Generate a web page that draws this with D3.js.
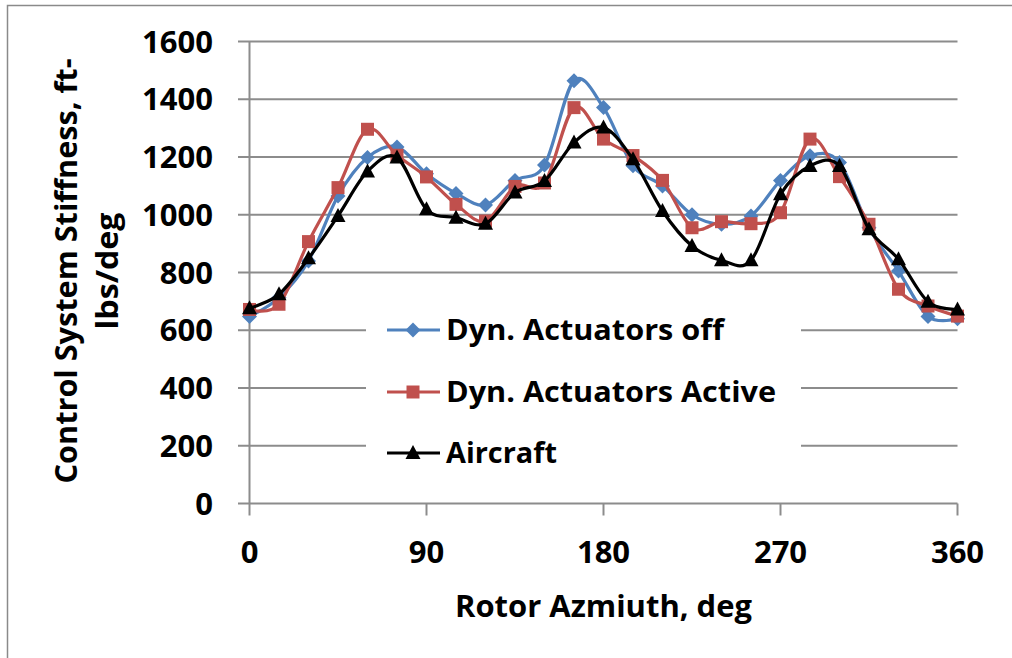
<!DOCTYPE html>
<html>
<head>
<meta charset="utf-8">
<script src="https://cdn.jsdelivr.net/npm/d3@7"></script>
<style>
  html, body { margin: 0; padding: 0; background: #fff; }
  svg { display: block; }
  text { font-family: "Open Sans", "Noto Sans", sans-serif; font-weight: 700; fill: #000; }
</style>
</head>
<body>
<div id="chart"></div>
<script>
// rotor azimuth, deg
var azimuth = [0, 15, 30, 45, 60, 75, 90, 105, 120, 135, 150, 165, 180,
               195, 210, 225, 240, 255, 270, 285, 300, 315, 330, 345, 360];
var actuatorsOff = [648, 713, 840, 1065, 1198, 1235, 1142, 1074, 1034, 1119, 1172, 1464, 1371,
                    1170, 1100, 1000, 967, 996, 1119, 1204, 1181, 955, 805, 648, 640];
var actuatorsActive = [672, 690, 907, 1094, 1296, 1206, 1131, 1036, 978, 1098, 1110, 1371, 1262,
                       1205, 1119, 955, 976, 969, 1007, 1262, 1132, 967, 742, 684, 649];
var aircraft = [676, 725, 849, 996, 1150, 1198, 1019, 990, 969, 1077, 1117, 1250, 1302,
                1192, 1013, 892, 842, 842, 1071, 1169, 1169, 950, 846, 699, 672];
var xTicks = [0, 90, 180, 270, 360];
var yTicks = [0, 200, 400, 600, 800, 1000, 1200, 1400, 1600];
var seriesNames = ["Dyn. Actuators off", "Dyn. Actuators Active", "Aircraft"];

var W = 1012, H = 658;
var svg = d3.select("#chart").append("svg").attr("width", W).attr("height", H);

// chart area border (clipped at right/bottom like the original)
svg.append("rect").attr("x", 7.5).attr("y", 5.5).attr("width", W + 20).attr("height", H + 20)
  .attr("fill", "#fff").attr("stroke", "#8a8a8a").attr("stroke-width", 1.5);

var x = d3.scaleLinear().domain([0, 360]).range([249.5, 957.5]);
var y = d3.scaleLinear().domain([0, 1600]).range([503.5, 41.5]);

// gridlines (also act as left tick marks)
svg.append("g").selectAll("line").data(yTicks).enter().append("line")
  .attr("x1", 238).attr("x2", x(360))
  .attr("y1", function(d) { return y(d); }).attr("y2", function(d) { return y(d); })
  .attr("stroke", "#8c8c8c").attr("stroke-width", 2);

// y axis line
svg.append("line").attr("x1", x(0)).attr("x2", x(0)).attr("y1", y(1600)).attr("y2", y(0))
  .attr("stroke", "#8c8c8c").attr("stroke-width", 2);

// x axis ticks
svg.append("g").selectAll("line").data(xTicks).enter().append("line")
  .attr("x1", function(d) { return x(d); }).attr("x2", function(d) { return x(d); })
  .attr("y1", y(0)).attr("y2", y(0) + 12)
  .attr("stroke", "#8c8c8c").attr("stroke-width", 2);

// tick labels
svg.append("g").selectAll("text").data(yTicks).enter().append("text")
  .attr("x", 213).attr("y", function(d) { return y(d) + 11; })
  .attr("text-anchor", "end").style("font-size", "31px")
  .text(function(d) { return d; });

svg.append("g").selectAll("text").data(xTicks).enter().append("text")
  .attr("x", function(d) { return x(d); }).attr("y", 563)
  .attr("text-anchor", "middle").style("font-size", "31px")
  .text(function(d) { return d; });

// axis titles
svg.append("text").attr("x", 603.5).attr("y", 617).attr("text-anchor", "middle")
  .style("font-size", "30px").attr("textLength", 297).attr("lengthAdjust", "spacingAndGlyphs")
  .text("Rotor Azmiuth, deg");

var yt = svg.append("g").attr("transform", "translate(0,271) rotate(-90)");
yt.append("text").attr("x", 0).attr("y", 77).attr("text-anchor", "middle")
  .style("font-size", "31px").attr("textLength", 425).attr("lengthAdjust", "spacingAndGlyphs")
  .text("Control System Stiffness, ft-");
yt.append("text").attr("x", 0).attr("y", 118).attr("text-anchor", "middle")
  .style("font-size", "31px").attr("textLength", 117).attr("lengthAdjust", "spacingAndGlyphs")
  .text("lbs/deg");

// legend box sits over the gridlines
svg.append("rect").attr("x", 366).attr("y", 300).attr("width", 435).attr("height", 185).attr("fill", "#fff");

var colors = ["#4f81bd", "#c0504d", "#000000"];
var shapes = ["diamond", "square", "triangle"];

function markerPath(shape) {
  if (shape == "diamond") return "M0,-7.5L7.5,0L0,7.5L-7.5,0Z";
  if (shape == "square") return "M-6.5,-6.5H6.5V6.5H-6.5Z";
  return "M0,-8L7.5,6L-7.5,6Z";
}

var line = d3.line()
  .x(function(d) { return x(d[0]); })
  .y(function(d) { return y(d[1]); })
  .curve(d3.curveCatmullRom.alpha(0));

[actuatorsOff, actuatorsActive, aircraft].forEach(function(vals, i) {
  var pts = azimuth.map(function(a, j) { return [a, vals[j]]; });
  var g = svg.append("g");
  g.append("path").attr("d", line(pts)).attr("fill", "none")
    .attr("stroke", colors[i]).attr("stroke-width", 3.2);
  g.selectAll("path.m").data(pts).enter().append("path").attr("class", "m")
    .attr("transform", function(d) { return "translate(" + x(d[0]) + "," + y(d[1]) + ")"; })
    .attr("d", markerPath(shapes[i])).attr("fill", colors[i]);
});

// legend
var legendY = [330, 392, 453];
var legendLen = [278, 330, 111];
seriesNames.forEach(function(name, i) {
  var g = svg.append("g").attr("transform", "translate(0," + legendY[i] + ")");
  g.append("line").attr("x1", 387).attr("x2", 440).attr("y1", 0).attr("y2", 0)
    .attr("stroke", colors[i]).attr("stroke-width", 3.2);
  g.append("path").attr("transform", "translate(413,0)").attr("d", markerPath(shapes[i])).attr("fill", colors[i]);
  g.append("text").attr("x", 446).attr("y", 10).style("font-size", "28px")
    .attr("textLength", legendLen[i]).attr("lengthAdjust", "spacingAndGlyphs")
    .text(name);
});
</script>
</body>
</html>
